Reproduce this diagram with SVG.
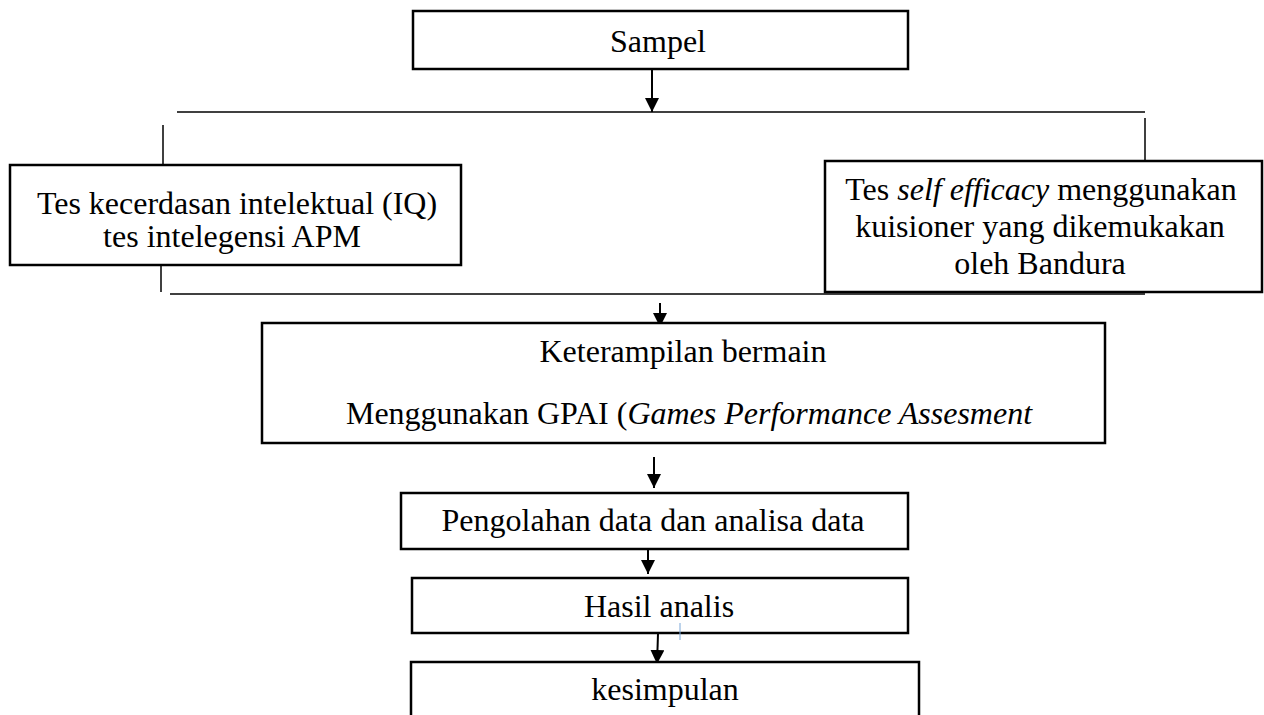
<svg xmlns="http://www.w3.org/2000/svg" width="1264" height="715" viewBox="0 0 1264 715">
<style>
.box{fill:#fff;stroke:#000;stroke-width:2.5}
.t{font-family:"Liberation Serif","Times New Roman",serif;font-size:32px;fill:#000;text-anchor:middle}
.ln{stroke:#000;stroke-width:1.5;fill:none}
.ar{stroke:#000;stroke-width:2;fill:none;marker-end:url(#a2)}
</style>
<defs>
<marker id="a2" markerWidth="14" markerHeight="14" refX="14" refY="7" orient="auto" markerUnits="userSpaceOnUse">
<path d="M0,0 L14,7 L0,14 Z" fill="#000"/>
</marker>
</defs>
<g id="connectors">
<line class="ln" x1="177" y1="112" x2="1145" y2="112"/>
<line class="ln" x1="163" y1="125" x2="163" y2="165"/>
<line class="ln" x1="1145" y1="118" x2="1145" y2="161"/>
<line class="ln" x1="161" y1="265" x2="161" y2="292"/>
<line class="ln" x1="170" y1="294" x2="1145" y2="294"/>
<line class="ar" x1="652" y1="70" x2="652" y2="112"/>
<line class="ar" x1="660" y1="303" x2="660" y2="327"/>
<line class="ar" x1="654" y1="457" x2="654" y2="488"/>
<line class="ar" x1="648" y1="549" x2="648" y2="574"/>
<line class="ar" x1="658" y1="634" x2="657" y2="664"/>
</g>
<g id="sampel">
<rect class="box" x="413" y="11" width="495" height="58"/>
<text class="t" x="658" y="52">Sampel</text>
</g>
<g id="iq">
<rect class="box" x="10" y="165" width="451" height="100"/>
<text class="t" x="237" y="214">Tes kecerdasan intelektual (IQ)</text>
<text class="t" x="232" y="247">tes intelegensi APM</text>
</g>
<g id="self-efficacy">
<rect class="box" x="825" y="161" width="437" height="131"/>
<text class="t" x="1041" y="200">Tes <tspan font-style="italic">self efficacy</tspan> menggunakan</text>
<text class="t" x="1040" y="237">kuisioner yang dikemukakan</text>
<text class="t" x="1040" y="274">oleh Bandura</text>
</g>
<g id="keterampilan">
<rect class="box" x="262" y="323" width="843" height="120"/>
<text class="t" x="683" y="362">Keterampilan bermain</text>
<text class="t" x="689" y="424">Menggunakan GPAI (<tspan font-style="italic">Games Performance Assesment</tspan></text>
</g>
<g id="pengolahan">
<rect class="box" x="401" y="493" width="507" height="56"/>
<text class="t" x="653" y="531">Pengolahan data dan analisa data</text>
</g>
<g id="hasil">
<rect class="box" x="412" y="578" width="496" height="55"/>
<text class="t" x="659" y="617">Hasil analis</text>
<line x1="680" y1="623" x2="680" y2="640" stroke="#7aa7d8" stroke-width="1"/>
</g>
<g id="kesimpulan">
<rect class="box" x="411" y="662" width="508" height="70"/>
<text class="t" x="665" y="700">kesimpulan</text>
</g>
</svg>
